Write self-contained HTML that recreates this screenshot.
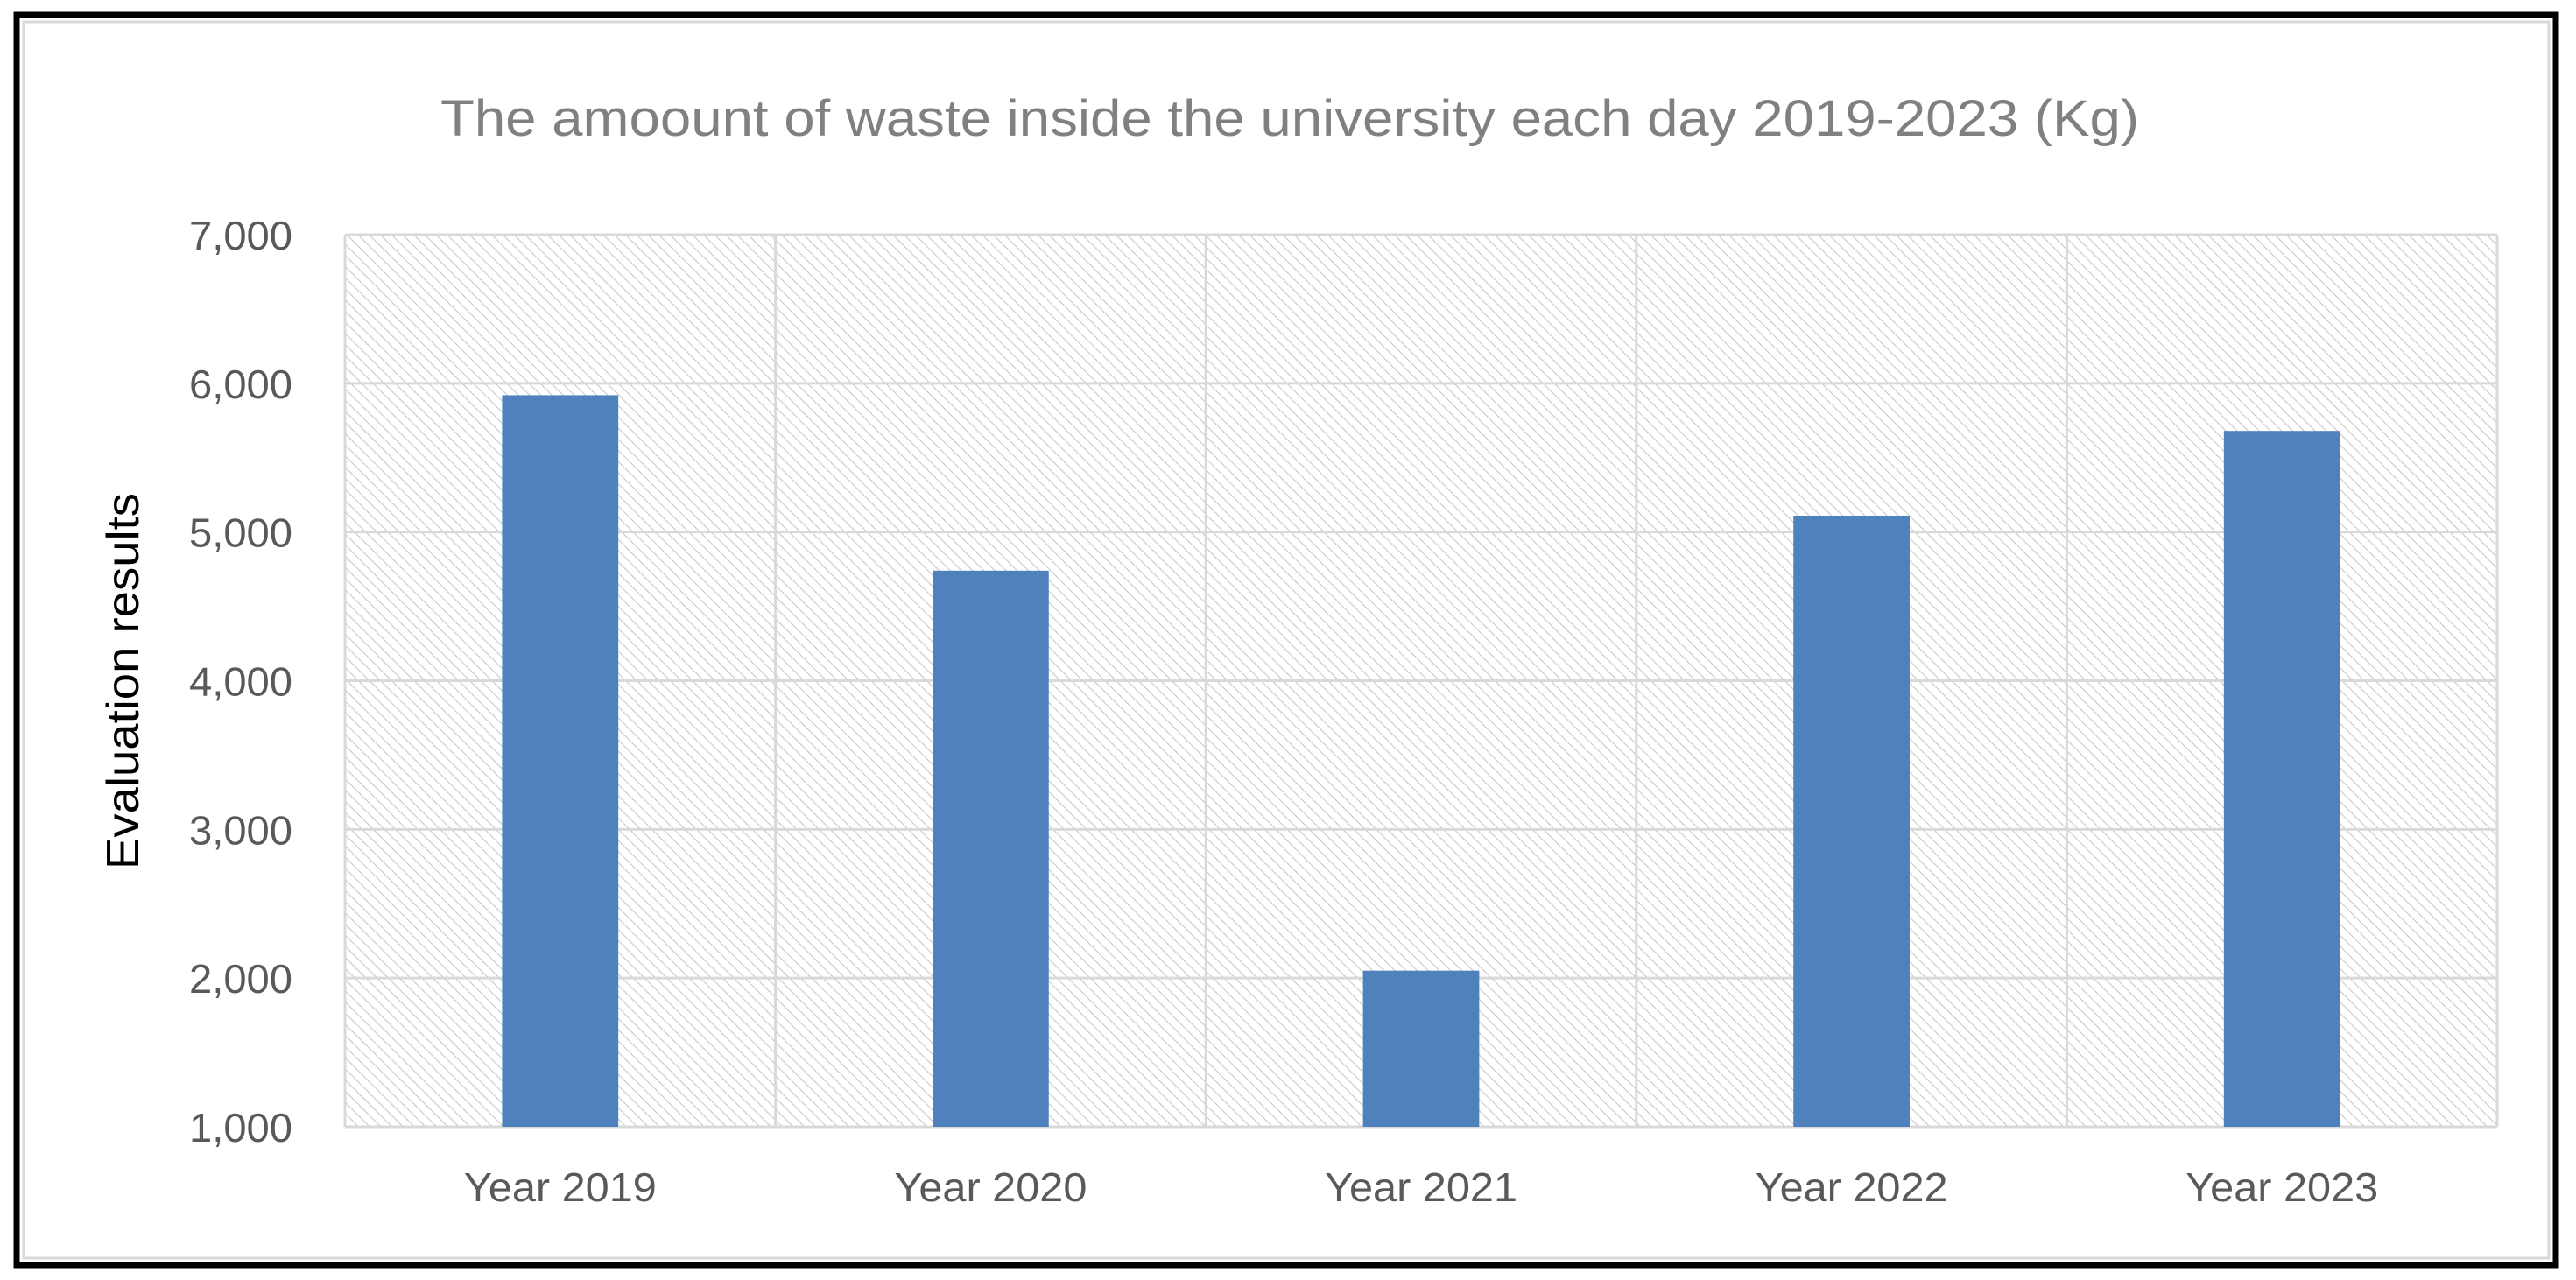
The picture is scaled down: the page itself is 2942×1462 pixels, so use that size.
<!DOCTYPE html>
<html><head><meta charset="utf-8"><style>
html,body{margin:0;padding:0;background:#fff;}
svg{display:block;font-family:"Liberation Sans",sans-serif;}
</style></head><body>
<svg id="chart" width="2942" height="1462" viewBox="0 0 2942 1462">
<defs>
<pattern id="hatch" patternUnits="userSpaceOnUse" width="9" height="9" patternTransform="rotate(-45)">
<rect width="9" height="9" fill="#ffffff"/>
<line x1="0" y1="0" x2="0" y2="9" stroke="#c8c8c8" stroke-width="2.2"/>
</pattern>
</defs>
<rect x="19" y="17" width="2900" height="1428" fill="#fff" stroke="#000" stroke-width="7"/>
<rect x="27" y="25" width="2884" height="1412" fill="none" stroke="#d9d9d9" stroke-width="3"/>
<text x="1473" y="155" text-anchor="middle" font-size="58" fill="#808080" textLength="1940" lengthAdjust="spacingAndGlyphs">The amoount of waste inside the university each day 2019-2023 (Kg)</text>
<text transform="translate(158,778) rotate(-90)" text-anchor="middle" font-size="52" fill="#000" textLength="430" lengthAdjust="spacingAndGlyphs">Evaluation results</text>
<g id="plot"></g>
</svg>
<script>
const categories = ["Year 2019","Year 2020","Year 2021","Year 2022","Year 2023"];
const values = [5920, 4740, 2050, 5110, 5680];
const yTicks = [1000,2000,3000,4000,5000,6000,7000];
const yTickLabels = ["1,000","2,000","3,000","4,000","5,000","6,000","7,000"];

const L=394,R=2852,T=268,B=1287,yMin=1000,yMax=7000;
const ns="http://www.w3.org/2000/svg";
const g=document.getElementById('plot');
function y(v){return B-(v-yMin)/(yMax-yMin)*(B-T);}
const cw=(R-L)/categories.length;
function xc(i){return L+cw*(i+0.5);}
function mk(tag,attrs){const e=document.createElementNS(ns,tag);for(const k in attrs)e.setAttribute(k,attrs[k]);g.appendChild(e);return e;}

const bg=mk('rect',{x:L,y:T,width:R-L,height:B-T,fill:'url(#hatch)'});



yTicks.forEach((t,i)=>{
  const ln=mk('line',{x1:L,x2:R,y1:y(t),y2:y(t),stroke:'#d9d9d9','stroke-width':3});
  
  
  const tx=mk('text',{x:334,y:y(t)+17,'text-anchor':'end','font-size':46,fill:'#595959',textLength:118,lengthAdjust:'spacingAndGlyphs'});
  tx.textContent=yTickLabels[i];
  
  
});
for(let i=0;i<=categories.length;i++){
  const x=L+cw*i;
  const ln=mk('line',{x1:x,x2:x,y1:T,y2:B,stroke:'#d9d9d9','stroke-width':3});
  
  
}
const bw=cw*0.27;
categories.forEach((c,i)=>{
  const r=mk('rect',{x:xc(i)-bw/2,y:y(values[i]),width:bw,height:B-y(values[i]),fill:'#4f81bd'});
  
  
  const tx=mk('text',{x:xc(i),y:1372,'text-anchor':'middle','font-size':46,fill:'#595959',textLength:220,lengthAdjust:'spacingAndGlyphs'});
  tx.textContent=c;
  
  
});
</script>
</body></html>
